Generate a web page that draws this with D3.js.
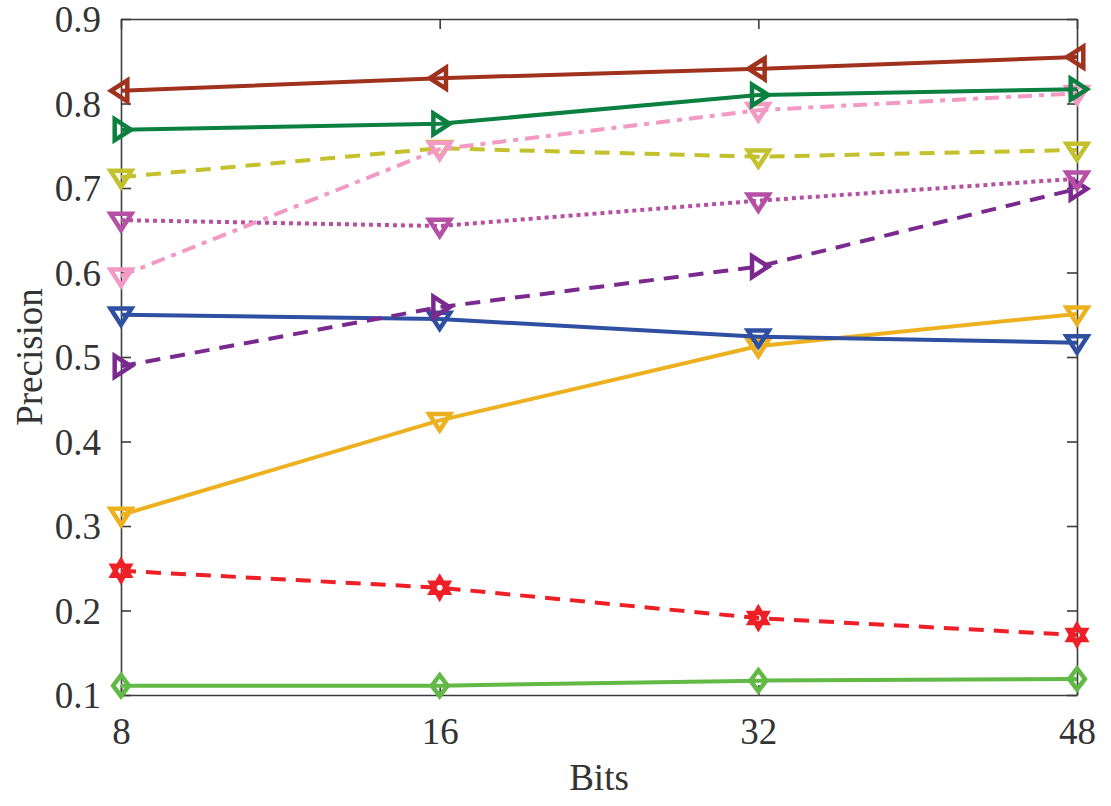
<!DOCTYPE html>
<html>
<head>
<meta charset="utf-8">
<script src="https://cdn.jsdelivr.net/npm/d3@7"></script>
<style>
  body { margin: 0; background: #fff; }
  text { font-family: "Liberation Serif", "Times New Roman", serif; }
</style>
</head>
<body>
<div id="main"></div>
<script>
// data
var bits = ["8", "16", "32", "48"];
var yTicks = [0.1, 0.2, 0.3, 0.4, 0.5, 0.6, 0.7, 0.8, 0.9];

var brownVals   = [0.815, 0.830, 0.841, 0.855];
var greenVals   = [0.769, 0.776, 0.810, 0.817];
var pinkVals    = [0.596, 0.746, 0.792, 0.812];
var oliveVals   = [0.713, 0.747, 0.737, 0.745];
var magentaVals = [0.662, 0.655, 0.685, 0.711];
var purpleVals  = [0.489, 0.559, 0.607, 0.699];
var blueVals    = [0.550, 0.545, 0.524, 0.517];
var orangeVals  = [0.313, 0.425, 0.513, 0.551];
var redVals     = [0.247, 0.227, 0.191, 0.171];
var lgreenVals  = [0.111, 0.111, 0.117, 0.119];

var series = [
  { values: lgreenVals,  color: "#62b946", dash: null,          marker: "diamond" },
  { values: redVals,     color: "#ee1f26", dash: "15,10",       marker: "hexagram" },
  { values: orangeVals,  color: "#edb120", dash: null,          marker: "down" },
  { values: blueVals,    color: "#2f4fa2", dash: null,          marker: "down" },
  { values: purpleVals,  color: "#7a2a8f", dash: "15,10",       marker: "right" },
  { values: magentaVals, color: "#b650a4", dash: "4,4",         marker: "down" },
  { values: oliveVals,   color: "#c3c12c", dash: "15,10",       marker: "down" },
  { values: pinkVals,    color: "#f39ac4", dash: "14,7,5,7",    marker: "down" },
  { values: greenVals,   color: "#0b8040", dash: null,          marker: "right" },
  { values: brownVals,   color: "#a0311d", dash: null,          marker: "left" }
];

var dimensions = {
  width: 1111,
  height: 806,
  margin: { top: 19, bottom: 111, right: 34, left: 121 }
};
dimensions.boundedWidth = dimensions.width - dimensions.margin.left - dimensions.margin.right;
dimensions.boundedHeight = dimensions.height - dimensions.margin.top - dimensions.margin.bottom;

var svg = d3.select("#main")
  .append("svg")
    .attr("width", dimensions.width)
    .attr("height", dimensions.height);

var SVG = svg.append("g")
  .attr("transform", "translate(" + dimensions.margin.left + "," + dimensions.margin.top + ")");

var x = d3.scalePoint()
  .domain(bits)
  .range([0, dimensions.boundedWidth]);

var y = d3.scaleLinear()
  .domain([0.1, 0.9])
  .range([dimensions.boundedHeight, 0]);

var axisColor = "#3c3c3c";
var textColor = "#333";

// axes with inward ticks
var xAxis = SVG.append("g")
  .attr("transform", "translate(0," + dimensions.boundedHeight + ")")
  .call(d3.axisBottom(x).tickSizeInner(-10).tickSizeOuter(0).tickPadding(22));
var yAxis = SVG.append("g")
  .call(d3.axisLeft(y).tickValues(yTicks).tickFormat(d3.format(".1f")).tickSizeInner(-10).tickSizeOuter(0).tickPadding(20));
var topAxis = SVG.append("g")
  .call(d3.axisTop(x).tickSizeInner(-10).tickSizeOuter(0).tickFormat(""));
var rightAxis = SVG.append("g")
  .attr("transform", "translate(" + dimensions.boundedWidth + ",0)")
  .call(d3.axisRight(y).tickValues(yTicks).tickSizeInner(-10).tickSizeOuter(0).tickFormat(""));

[xAxis, yAxis, topAxis, rightAxis].forEach(function(a) {
  a.attr("font-family", null);
  a.selectAll("path, line").attr("stroke", axisColor).attr("stroke-width", 1.6);
  a.selectAll("text")
    .attr("fill", textColor)
    .style("font-size", "37px")
    .style("font-family", "'Liberation Serif', serif");
});
yAxis.selectAll("text").attr("dy", "0.34em");
xAxis.selectAll("text").attr("dy", "0.72em");

// marker shapes
function markerPath(type, s) {
  if (type === "down") return "M" + (-s) + "," + (-s * 0.6) + "L" + s + "," + (-s * 0.6) + "L0," + (s * 0.95) + "Z";
  if (type === "right") return "M" + (-s * 0.6) + "," + (-s) + "L" + (s * 0.95) + ",0L" + (-s * 0.6) + "," + s + "Z";
  if (type === "left") return "M" + (s * 0.6) + "," + (-s) + "L" + (-s * 0.95) + ",0L" + (s * 0.6) + "," + s + "Z";
  if (type === "diamond") return "M0," + (-s) + "L" + (s * 0.75) + ",0L0," + s + "L" + (-s * 0.75) + ",0Z";
  if (type === "hexagram") {
    var a = s * 0.95;
    return "M0," + (-a) + "L" + (a * 0.866) + "," + (a * 0.5) + "L" + (-a * 0.866) + "," + (a * 0.5) + "Z" +
           "M0," + a + "L" + (a * 0.866) + "," + (-a * 0.5) + "L" + (-a * 0.866) + "," + (-a * 0.5) + "Z";
  }
}

var line = d3.line()
  .x(function(d, i) { return x(bits[i]); })
  .y(function(d) { return y(d); });

series.forEach(function(s) {
  SVG.append("path")
    .datum(s.values)
    .attr("d", line)
    .attr("fill", "none")
    .attr("stroke", s.color)
    .attr("stroke-width", 4)
    .attr("stroke-dasharray", s.dash);

  SVG.append("g")
    .selectAll("path")
    .data(s.values)
    .enter()
    .append("path")
      .attr("transform", function(d, i) { return "translate(" + x(bits[i]) + "," + y(d) + ")"; })
      .attr("d", markerPath(s.marker, 10.5))
      .attr("fill", s.marker === "hexagram" ? s.color : "none")
      .attr("stroke", s.color)
      .attr("stroke-width", 4.5)
      .attr("stroke-linejoin", "miter");
});

// axis titles
svg.append("text")
  .attr("x", dimensions.margin.left + dimensions.boundedWidth / 2)
  .attr("y", 790)
  .attr("text-anchor", "middle")
  .attr("fill", textColor)
  .style("font-size", "37px")
  .text("Bits");

svg.append("text")
  .attr("transform", "translate(42," + (dimensions.margin.top + dimensions.boundedHeight / 2) + ") rotate(-90)")
  .attr("text-anchor", "middle")
  .attr("fill", textColor)
  .style("font-size", "37px")
  .text("Precision");
</script>
</body>
</html>
